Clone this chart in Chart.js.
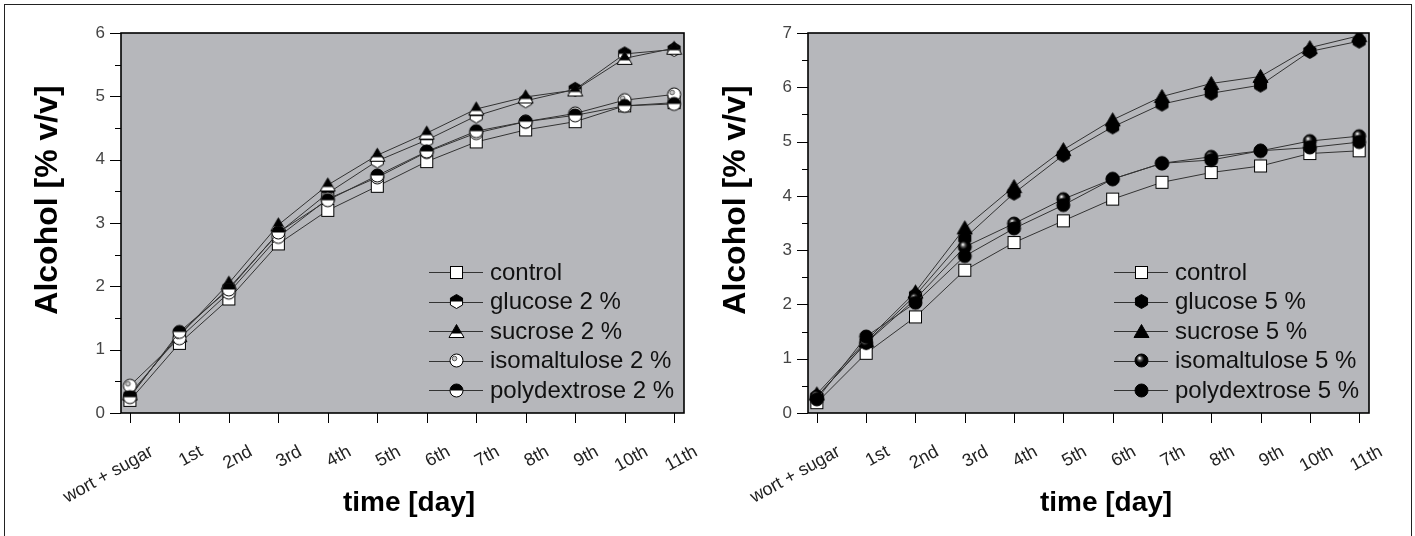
<!DOCTYPE html>
<html>
<head>
<meta charset="utf-8">
<script src="https://cdn.jsdelivr.net/npm/chart.js@4.4.1/dist/chart.umd.min.js"></script>
<style>
  html, body { margin: 0; padding: 0; background: #fff; overflow: hidden; }
  #frame { position: absolute; left: 4px; top: 4px; width: 1406px; height: 580px; border: 1px solid #222; }
  #left { position: absolute; left: 0; top: 0; }
  #right { position: absolute; left: 700px; top: 0; }
</style>
</head>
<body>
<div id="frame"></div>
<canvas id="left" width="700" height="536"></canvas>
<canvas id="right" width="715" height="536"></canvas>
<script>
// categories (x axis)
const days = ['wort + sugar', '1st', '2nd', '3rd', '4th', '5th', '6th', '7th', '8th', '9th', '10th', '11th'];

// y tick labels
const yTicksLeft = [0, 1, 2, 3, 4, 5, 6];
const yTicksRight = [0, 1, 2, 3, 4, 5, 6, 7];

// left panel: 2 % additions
const control2 = [0.20, 1.10, 1.80, 2.67, 3.20, 3.58, 3.97, 4.28, 4.47, 4.60, 4.85, 4.90];
const glucose2 = [0.27, 1.25, 1.97, 2.84, 3.47, 3.98, 4.31, 4.69, 4.93, 5.11, 5.67, 5.74];
const sucrose2 = [0.30, 1.22, 2.05, 2.97, 3.60, 4.07, 4.42, 4.80, 4.99, 5.10, 5.60, 5.76];
const isomaltulose2 = [0.43, 1.18, 1.90, 2.78, 3.38, 3.72, 4.12, 4.42, 4.60, 4.73, 4.94, 5.03];
const polydextrose2 = [0.25, 1.28, 1.95, 2.85, 3.36, 3.75, 4.13, 4.45, 4.60, 4.70, 4.85, 4.88];

// right panel: 5 % additions
const control5 = [0.19, 1.10, 1.77, 2.63, 3.14, 3.54, 3.94, 4.25, 4.43, 4.55, 4.78, 4.83];
const glucose5 = [0.30, 1.30, 2.17, 3.22, 4.05, 4.75, 5.27, 5.69, 5.89, 6.04, 6.66, 6.85];
const sucrose5 = [0.35, 1.33, 2.23, 3.41, 4.17, 4.85, 5.40, 5.83, 6.07, 6.20, 6.73, 6.95];
const isomaltulose5 = [0.30, 1.29, 2.10, 3.06, 3.49, 3.94, 4.31, 4.60, 4.72, 4.83, 5.01, 5.10];
const polydextrose5 = [0.25, 1.41, 2.03, 2.89, 3.40, 3.83, 4.31, 4.60, 4.66, 4.83, 4.89, 4.99];

const FONT = '"Liberation Sans", Arial, sans-serif';

// small canvases used as point markers
function marker(kind) {
    const s = 17, m = s / 2;
    const c = document.createElement('canvas');
    c.width = c.height = s;
    const g = c.getContext('2d');
    g.lineWidth = 1;
    g.strokeStyle = '#000';

    function hexPath() {
        g.beginPath();
        for (let k = 0; k < 6; k++) {
            const a = -Math.PI / 2 + k * Math.PI / 3;
            g.lineTo(m + 7 * Math.cos(a), m + 7 * Math.sin(a));
        }
        g.closePath();
    }
    function triPath() {
        g.beginPath();
        g.moveTo(m, m - 7);
        g.lineTo(m + 7.5, m + 6);
        g.lineTo(m - 7.5, m + 6);
        g.closePath();
    }
    function circlePath(r) {
        g.beginPath();
        g.arc(m, m, r, 0, Math.PI * 2);
    }
    // top part black, bottom part white
    function halfFill(pathFn, split) {
        pathFn();
        g.fillStyle = '#fff';
        g.fill();
        g.save();
        pathFn();
        g.clip();
        g.fillStyle = '#000';
        g.fillRect(0, 0, s, split);
        g.restore();
        pathFn();
        g.stroke();
    }

    if (kind === 'square') {
        g.fillStyle = '#fff';
        g.fillRect(2.5, 2.5, 12, 12);
        g.strokeRect(2.5, 2.5, 12, 12);
    } else if (kind === 'hexHalf') {
        halfFill(hexPath, m);
    } else if (kind === 'triHalf') {
        halfFill(triPath, m + 2);
    } else if (kind === 'circleHalf') {
        halfFill(() => circlePath(6.5), m);
    } else if (kind === 'circleDot') {
        circlePath(6.5);
        g.fillStyle = '#fff';
        g.fill();
        g.stroke();
        g.beginPath();
        g.arc(m - 2, m - 2, 2.3, 0, Math.PI * 2);
        g.fillStyle = '#c8c8c8';
        g.fill();
        g.strokeStyle = '#555';
        g.stroke();
    } else if (kind === 'hex') {
        hexPath();
        g.fillStyle = '#000';
        g.fill();
        g.stroke();
    } else if (kind === 'tri') {
        triPath();
        g.fillStyle = '#000';
        g.fill();
        g.stroke();
    } else if (kind === 'sphere') {
        circlePath(6.5);
        const grad = g.createRadialGradient(m - 2, m - 2.5, 0.3, m - 1, m - 1, 6.5);
        grad.addColorStop(0, '#fff');
        grad.addColorStop(0.3, '#555');
        grad.addColorStop(0.6, '#000');
        g.fillStyle = grad;
        g.fill();
        g.stroke();
    } else if (kind === 'circle') {
        circlePath(6.5);
        g.fillStyle = '#000';
        g.fill();
        g.stroke();
    }
    return c;
}

// gray plot area, frame, tick marks, axis titles and inside legend
const plotFrame = {
    id: 'plotFrame',
    beforeDraw(chart) {
        const { ctx, chartArea: a } = chart;
        ctx.save();
        ctx.fillStyle = '#b6b7bb';
        ctx.fillRect(a.left, a.top, a.right - a.left, a.bottom - a.top);
        ctx.restore();
    },
    afterDraw(chart) {
        const { ctx, chartArea: a } = chart;
        const xs = chart.scales.x, ys = chart.scales.y;
        const opts = chart.options.plugins.plotFrame;
        ctx.save();
        ctx.strokeStyle = '#000';
        ctx.lineWidth = 1;
        ctx.beginPath();
        for (let v = 0; v <= ys.max + 1e-9; v += 0.5) {
            const py = Math.round(ys.getPixelForValue(v)) + 0.5;
            const len = Number.isInteger(v) ? 11 : 6;
            ctx.moveTo(a.left - len, py);
            ctx.lineTo(a.left, py);
        }
        xs.ticks.forEach(t => {
            const px = Math.round(xs.getPixelForValue(t.value)) + 0.5;
            ctx.moveTo(px, a.bottom);
            ctx.lineTo(px, a.bottom + 10);
        });
        ctx.stroke();
        ctx.lineWidth = 1.6;
        ctx.strokeRect(a.left, a.top, a.right - a.left, a.bottom - a.top);

        // axis titles
        ctx.fillStyle = '#000';
        ctx.textAlign = 'center';
        ctx.textBaseline = 'middle';
        ctx.font = 'bold 28px ' + FONT;
        ctx.fillText('time [day]', opts.xTitle[0], opts.xTitle[1]);
        ctx.save();
        ctx.translate(opts.yTitle[0], opts.yTitle[1]);
        ctx.rotate(-Math.PI / 2);
        ctx.font = 'bold 32px ' + FONT;
        ctx.fillText('Alcohol [% v/v]', 0, 0);
        ctx.restore();

        // legend, bottom right inside the plot
        const textX = a.right - 194;
        ctx.font = '24px ' + FONT;
        ctx.textAlign = 'left';
        ctx.fillStyle = '#111';
        chart.data.datasets.forEach((ds, i) => {
            const y = a.bottom - 23 - (chart.data.datasets.length - 1 - i) * 29.5;
            ctx.strokeStyle = '#333';
            ctx.lineWidth = 1;
            ctx.beginPath();
            ctx.moveTo(textX - 61, Math.round(y) + 0.5);
            ctx.lineTo(textX - 7, Math.round(y) + 0.5);
            ctx.stroke();
            const img = ds.pointStyle;
            ctx.drawImage(img, Math.round(textX - 34 - img.width / 2), Math.round(y - img.height / 2));
            ctx.fillText(ds.label, textX, y + 1);
        });
        ctx.restore();
    }
};

function makeChart(id, names, series, markers, yTicks, yWidth, rightPad, titles) {
    const datasets = series.map((vals, i) => ({
        label: names[i],
        data: vals.map((v, k) => ({ x: k, y: v })),
        borderColor: '#333',
        borderWidth: 1,
        pointStyle: marker(markers[i]),
        pointRadius: 6,
        order: series.length - 1 - i
    }));
    return new Chart(document.getElementById(id), {
        type: 'line',
        data: { datasets },
        options: {
            responsive: false,
            animation: false,
            layout: { padding: { top: 33, right: rightPad, left: 0, bottom: 0 } },
            plugins: {
                legend: { display: false },
                tooltip: { enabled: false },
                plotFrame: titles
            },
            scales: {
                x: {
                    type: 'linear',
                    min: -0.18,
                    max: 11.2,
                    afterBuildTicks: s => { s.ticks = days.map((d, i) => ({ value: i })); },
                    afterFit: s => {
                        s.height = 123;
                        s.paddingLeft = 0;
                        s.paddingRight = 0;
                    },
                    grid: { display: false, drawTicks: false },
                    border: { display: false },
                    ticks: {
                        autoSkip: false,
                        minRotation: 29,
                        maxRotation: 29,
                        padding: 28,
                        labelOffset: 22,
                        color: '#222',
                        font: { family: FONT, size: 18 },
                        callback: v => days[v]
                    }
                },
                y: {
                    min: 0,
                    max: yTicks[yTicks.length - 1],
                    afterBuildTicks: s => { s.ticks = yTicks.map(v => ({ value: v })); },
                    afterFit: s => { s.width = yWidth; },
                    grid: { display: false, drawTicks: false },
                    border: { display: false },
                    ticks: { padding: 16, color: '#444', font: { family: FONT, size: 17 } }
                }
            }
        },
        plugins: [plotFrame]
    });
}

makeChart('left',
    ['control', 'glucose 2 %', 'sucrose 2 %', 'isomaltulose 2 %', 'polydextrose 2 %'],
    [control2, glucose2, sucrose2, isomaltulose2, polydextrose2],
    ['square', 'hexHalf', 'triHalf', 'circleDot', 'circleHalf'],
    yTicksLeft, 121, 16, { xTitle: [409, 503], yTitle: [48, 200] });

makeChart('right',
    ['control', 'glucose 5 %', 'sucrose 5 %', 'isomaltulose 5 %', 'polydextrose 5 %'],
    [control5, glucose5, sucrose5, isomaltulose5, polydextrose5],
    ['square', 'hex', 'tri', 'sphere', 'circle'],
    yTicksRight, 108, 46, { xTitle: [406, 503], yTitle: [36, 200] });
</script>
</body>
</html>
